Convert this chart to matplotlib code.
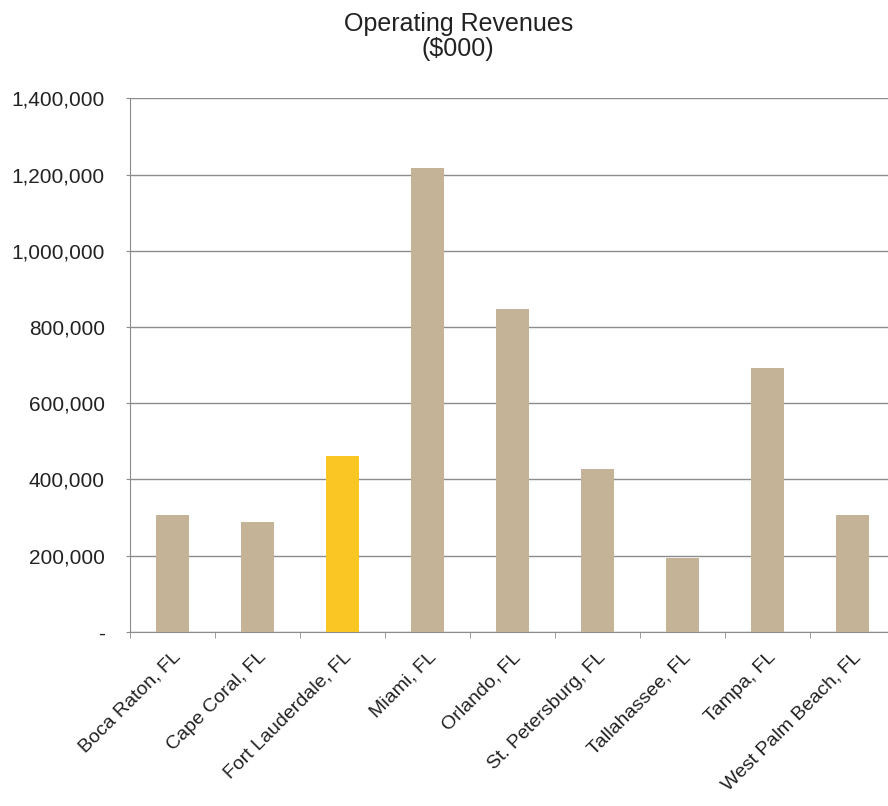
import matplotlib
matplotlib.use('Agg')
import matplotlib.pyplot as plt
import numpy as np
from matplotlib.ticker import FuncFormatter

plt.rcParams['font.family'] = ['Liberation Sans', 'DejaVu Sans']

cities = ['Boca Raton, FL', 'Cape Coral, FL', 'Fort Lauderdale, FL', 'Miami, FL',
          'Orlando, FL', 'St. Petersburg, FL', 'Tallahassee, FL', 'Tampa, FL',
          'West Palm Beach, FL']
revenues = [306000, 288000, 461000, 1216000, 847000, 428000, 193000, 692000, 307000]
highlight = 'Fort Lauderdale, FL'

tan = '#C5B398'
gold = '#F9C623'
colors = [gold if c == highlight else tan for c in cities]

fig = plt.figure(figsize=(8.88, 8.06), dpi=100)
ax = fig.add_axes([0.146, 0.216, 0.862, 0.662])

x = np.arange(len(cities))
ax.bar(x, revenues, width=0.39, color=colors, zorder=3)

ax.set_xlim(-0.5, len(cities) - 0.5)
ax.set_ylim(0, 1400000)
ax.set_yticks(np.arange(0, 1400001, 200000))
ax.yaxis.set_major_formatter(FuncFormatter(lambda v, p: '-' if v == 0 else f'{int(v):,}'))
ax.grid(axis='y', color='#8c8c8c', linewidth=1.0, zorder=0)

ax.set_xticks(x)
ax.set_xticklabels(cities, rotation=45, ha='right', rotation_mode='anchor')
ax.set_xticks(np.arange(-0.5, len(cities), 1), minor=True)
ax.tick_params(axis='x', which='major', length=0, pad=12, labelsize=14, colors='#222222')
ax.tick_params(axis='x', which='minor', length=4, color='#8c8c8c')
ax.tick_params(axis='y', length=3, color='#8c8c8c', labelsize=15, labelcolor='#222222', pad=15)

for s in ['top', 'right']:
    ax.spines[s].set_visible(False)
for s in ['left', 'bottom']:
    ax.spines[s].set_color('#8c8c8c')

fig.text(0.516, 0.985, 'Operating Revenues\n($000)', fontsize=18, color='#222222',
         ha='center', va='top', linespacing=1.05)

fig.savefig('out.png', dpi=100)
